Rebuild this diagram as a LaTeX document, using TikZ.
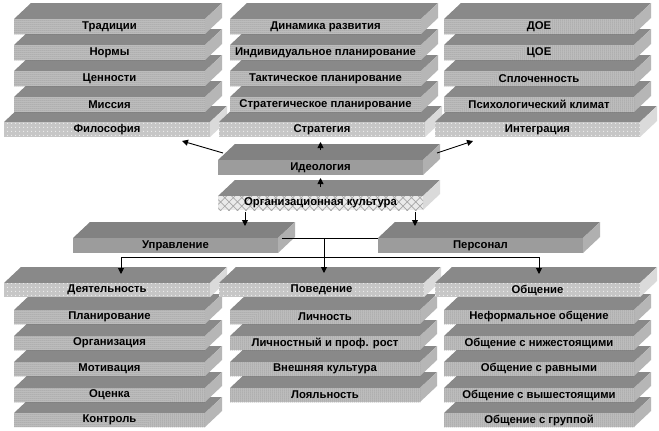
\documentclass[tikz,border=0pt]{standalone}
\usepackage{fontspec}
\setmainfont{Liberation Sans}
\usetikzlibrary{arrows.meta,patterns.meta,calc}
\definecolor{topc}{HTML}{898989}
\definecolor{nfc}{HTML}{C4C4C4}
\definecolor{ndot}{HTML}{6A6A6A}
\definecolor{nsc}{HTML}{B6B6B6}
\definecolor{bfc}{HTML}{C6C6C6}
\definecolor{bsc}{HTML}{DADADA}
\definecolor{ffc}{HTML}{9C9C9C}
\definecolor{fsc}{HTML}{B0B0B0}
\definecolor{ftc}{HTML}{828282}
\definecolor{ofc}{HTML}{EAEAEA}
\definecolor{olc}{HTML}{A6A6A6}
\tikzset{
  slab/.style={anchor=north west, inner sep=0pt, outer sep=0pt, text=black,
    font=\fontsize{11.3}{13}\selectfont\bfseries},
  topface/.style={fill=topc},
  darktop/.style={fill=ftc},
  nfront/.style={fill=nfc, postaction={pattern={Dots[distance=2pt,radius=0.5pt]}, pattern color=ndot}},
  nside/.style={fill=nsc},
  basefront/.style={fill=bfc, postaction={pattern={Dots[distance=4pt,radius=0.6pt]}, pattern color=white}},
  baseside/.style={fill=bsc},
  flatfront/.style={fill=ffc},
  flatside/.style={fill=fsc},
  orgfront/.style={fill=ofc, postaction={pattern={Hatch[angle=45,distance=6pt,line width=0.7pt]}, pattern color=olc}},
  orgside/.style={fill=bsc},
  conn/.style={draw=black, line width=0.9pt},
  arr/.style={conn, -{Triangle[length=6pt,width=6pt]}}
}
% name, x, y, width, height, front style, side style, top style, text
\newcommand\mkslab[9]{%
  \fill[#8] (#2,#3) -- ++(17,-16) -- ++(#4,0) -- ++(-17,16) -- cycle;
  \fill[#7] (#2+#4,#3) -- ++(17,-16) -- ++(0,#5) -- ++(-17,16) -- cycle;
  \node[slab,#6,minimum width=#4,minimum height=#5] (#1) at (#2,#3) {#9};
}
\begin{document}
\begin{tikzpicture}[x=1pt,y=-1pt]
\fill[white] (0,0) rectangle (659,431);
\useasboundingbox (0,0) rectangle (659,431);
% ---- top left stack
\mkslab{phil}{4}{122}{206}{15}{basefront}{baseside}{topface}{Философия}
\mkslab{miss}{14}{97}{191}{15}{nfront}{nside}{topface}{Миссия}
\mkslab{cenn}{14}{71}{191}{15}{nfront}{nside}{topface}{Ценности}
\mkslab{norm}{14}{45}{191}{15}{nfront}{nside}{topface}{Нормы}
\mkslab{trad}{14}{19}{191}{15}{nfront}{nside}{topface}{Традиции}
% ---- top middle stack
\mkslab{strat}{219}{122}{206}{15}{basefront}{baseside}{topface}{Стратегия}
\mkslab{stpl}{230}{97}{191}{15}{nfront}{nside}{topface}{Стратегическое планирование}
\mkslab{tpl}{230}{71}{191}{15}{nfront}{nside}{topface}{Тактическое планирование}
\mkslab{ipl}{230}{45}{191}{15}{nfront}{nside}{topface}{Индивидуальное планирование}
\mkslab{dyn}{230}{19}{191}{15}{nfront}{nside}{topface}{Динамика развития}
% ---- top right stack
\mkslab{integ}{435}{122}{205}{15}{basefront}{baseside}{topface}{Интеграция}
\mkslab{psy}{444}{97}{190}{15}{nfront}{nside}{topface}{Психологический климат}
\mkslab{spl}{444}{71}{190}{15}{nfront}{nside}{topface}{Сплоченность}
\mkslab{coe}{444}{45}{190}{15}{nfront}{nside}{topface}{ЦОЕ}
\mkslab{doe}{444}{19}{190}{15}{nfront}{nside}{topface}{ДОЕ}
% ---- centre
\mkslab{ideo}{218}{160}{205}{15}{flatfront}{flatside}{darktop}{Идеология}
\mkslab{org}{218}{196}{205}{14}{orgfront}{orgside}{topface}{Организационная культура}
\mkslab{upr}{73}{238}{205}{15}{flatfront}{flatside}{darktop}{Управление}
\mkslab{pers}{378}{238}{205}{15}{flatfront}{flatside}{darktop}{Персонал}
% ---- bottom left stack
\mkslab{ctrl}{14}{413}{191}{14}{nfront}{nside}{topface}{Контроль}
\mkslab{ocen}{14}{388}{191}{14}{nfront}{nside}{topface}{Оценка}
\mkslab{motiv}{14}{362}{191}{14}{nfront}{nside}{topface}{Мотивация}
\mkslab{orgz}{14}{336}{191}{14}{nfront}{nside}{topface}{Организация}
\mkslab{plan}{14}{310}{191}{14}{nfront}{nside}{topface}{Планирование}
\mkslab{act}{4}{283}{206}{14}{basefront}{baseside}{topface}{Деятельность}
% ---- bottom middle stack
\mkslab{loy}{230}{388}{190}{14}{nfront}{nside}{topface}{Лояльность}
\mkslab{ext}{230}{362}{190}{14}{nfront}{nside}{topface}{Внешняя культура}
\mkslab{grow}{230}{336}{190}{14}{nfront}{nside}{topface}{Личностный и проф. рост}
\mkslab{lich}{230}{310}{190}{14}{nfront}{nside}{topface}{Личность}
\mkslab{beh}{219}{283}{205}{14}{basefront}{baseside}{topface}{Поведение}
% ---- bottom right stack
\mkslab{grp}{444}{413}{190}{14}{nfront}{nside}{topface}{Общение с группой}
\mkslab{upw}{444}{388}{190}{14}{nfront}{nside}{topface}{Общение с вышестоящими}
\mkslab{eqv}{444}{362}{190}{14}{nfront}{nside}{topface}{Общение с равными}
\mkslab{dnw}{444}{336}{190}{14}{nfront}{nside}{topface}{Общение с нижестоящими}
\mkslab{inf}{444}{310}{190}{14}{nfront}{nside}{topface}{Неформальное общение}
\mkslab{comm}{435}{283}{205}{14}{basefront}{baseside}{topface}{Общение}
% ---- connectors
\draw[arr] ($(ideo.north west)+(5,-7)$) -- ($(phil.south east)+(-28,4)$);
\draw[arr] ($(ideo.north east)+(14,-7)$) -- ($(integ.south west)+(38,4)$);
\draw[arr] ($(ideo.north)+(0,-10)$) -- ($(strat.south -| ideo.north)+(0,5)$);
\draw[arr] ($(org.north)+(0,-9)$) -- ($(ideo.south)+(0,3)$);
\draw[arr] ($(org.south west)+(27,2)$) -- ($(upr.north west)+(172,-12)$);
\draw[arr] ($(org.south east)+(-8,2)$) -- ($(pers.north west)+(37,-12)$);
\coordinate (jn) at (324,238);
\coordinate (busL) at (121,257);
\coordinate (busR) at (539,257);
\draw[conn] ($(upr.north east)+(4,0)$) -- (pers.north west);
\draw[conn] (busL) -- (busR);
\draw[arr] (jn) -- ($(beh.north)+(2.5,-10)$);
\draw[arr] (busL) -- ($(act.north)+(14,-9)$);
\draw[arr] (busR) -- ($(comm.north)+(1.5,-9)$);
\end{tikzpicture}
\end{document}
